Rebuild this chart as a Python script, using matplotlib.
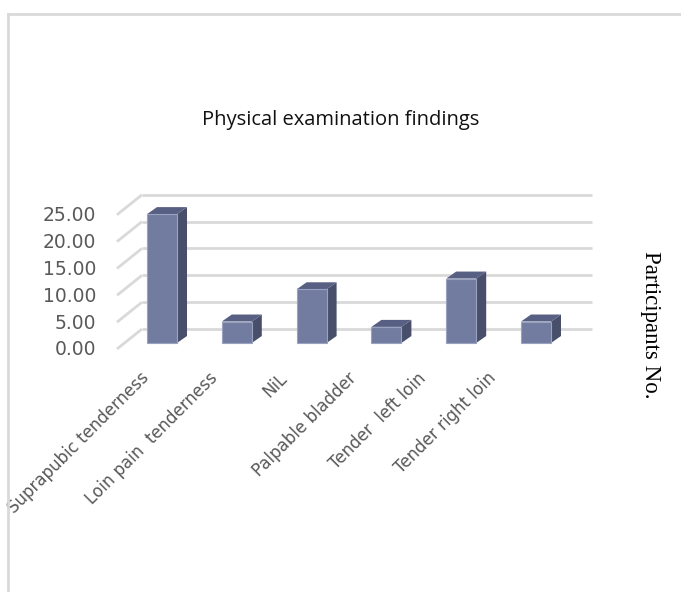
import numpy as np
import matplotlib
matplotlib.use("Agg")
import matplotlib.pyplot as plt
from matplotlib.patches import Polygon

categories = [
    "Suprapubic tenderness",
    "Loin pain  tenderness",
    "NiL",
    "Palpable bladder",
    "Tender  left loin",
    "Tender right loin",
]
participants = [24, 4, 10, 3, 12, 4]
grid_values = [0, 5, 10, 15, 20, 25]

title = "Physical examination findings"
axis_title = "Participants No."

front_col = "#717ca0"
side_col = "#474f6b"
top_col = "#575f82"
grid_col = "#d9d9d9"
label_col = "#595959"

# layout in pixels (figure is 681 x 592 at dpi 100)
W, H = 681, 592
x0, sx = 162, 74.8     # pixel x of first bar centre, pixels per category
y0, sy = 343, 5.37     # pixel y (from top) of value 0 at bar front, pixels per unit

fig = plt.figure(figsize=(W / 100, H / 100), dpi=100)
ax = fig.add_axes([0, 0, 1, 1])
ax.set_xlim(-x0 / sx, (W - x0) / sx)
ax.set_ylim((y0 - H) / sy, y0 / sy)
ax.axis("off")

# 3d depth offsets in data units
bar_w = 30 / sx
ddx, ddy = 10 / sx, 7 / sy
back_dy = 14 / sy
wall_x0, wall_x1 = (142 - x0) / sx, (592 - x0) / sx
wall_dx, wall_dy = -25 / sx, -20 / sy

for g in grid_values:
    yb = g + back_dy
    ax.plot([wall_x0, wall_x1], [yb, yb], color=grid_col, lw=2, zorder=1,
            solid_capstyle="butt")
    ax.plot([wall_x0, wall_x0 + wall_dx], [yb, yb + wall_dy], color=grid_col,
            lw=2, zorder=1, solid_capstyle="butt")
    ax.text((96 - x0) / sx, g - 1.3, f"{g:.2f}", ha="right", va="center",
            fontsize=13.5, color=label_col, family="DejaVu Sans")

xs = np.arange(len(categories))
ax.bar(xs, participants, width=bar_w, color=front_col, edgecolor="#9aa2c2",
       linewidth=0.8, zorder=3)
for x, v in zip(xs, participants):
    r = x + bar_w / 2
    l = x - bar_w / 2
    ax.add_patch(Polygon([(r, 0), (r + ddx, ddy), (r + ddx, v + ddy), (r, v)],
                         closed=True, facecolor=side_col, edgecolor="none", zorder=2))
    ax.add_patch(Polygon([(l, v), (r, v), (r + ddx, v + ddy), (l + ddx, v + ddy)],
                         closed=True, facecolor=top_col, edgecolor="none", zorder=2))

# category labels sit a little left of each bar (perspective shrink)
for x, name in zip(xs, categories):
    ax.text(x * 0.928 - 0.30, (y0 - 369) / sy, name, rotation=45,
            rotation_mode="anchor", ha="right", va="top", fontsize=12,
            color=label_col, family="DejaVu Sans")

fig.text(341 / W, 1 - 120 / H, title, ha="center", va="center",
         fontsize=14.5, color="#111111", family="Open Sans")
fig.text(651 / W, 1 - 325 / H, axis_title, rotation=270, ha="center",
         va="center", fontsize=16.5, color="#000000", family="Liberation Serif")

# chart border from the document
fig.add_artist(plt.Line2D([8 / W, 8 / W], [0, 1 - 14 / H], transform=fig.transFigure,
                          color=grid_col, lw=2))
fig.add_artist(plt.Line2D([8 / W, 1], [1 - 14 / H, 1 - 14 / H],
                          transform=fig.transFigure, color=grid_col, lw=2))

fig.savefig("out.png", dpi=100)
